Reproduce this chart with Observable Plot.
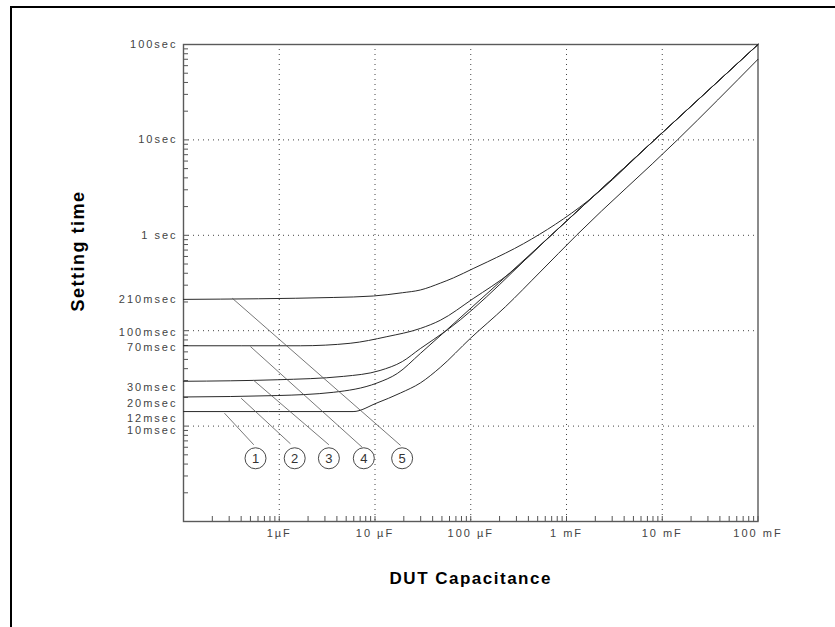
<!DOCTYPE html>
<html><head><meta charset="utf-8">
<script src="https://cdn.jsdelivr.net/npm/d3@7"></script>
<script src="https://cdn.jsdelivr.net/npm/@observablehq/plot@0.6"></script>
<style>
body{margin:0;background:#fff;}
#wrap{position:relative;width:835px;height:627px;overflow:hidden;}
#wrap svg{display:block;letter-spacing:1.5px;}
#wrap svg g[font-size="11"]{letter-spacing:2px;}
#wrap svg g[font-size="13"]{letter-spacing:0;}
#border{position:absolute;left:10px;top:6px;right:-5px;bottom:-5px;border-top:2.3px solid #000;border-left:2.3px solid #000;pointer-events:none;}
</style></head>
<body><div id="wrap"><div id="border"></div></div>
<script>
// ---- axis tick labels ----
const xTickValues = [1e-6, 1e-5, 1e-4, 1e-3, 1e-2, 1e-1];
const xTickLabels = ["1µF", "10 µF", "100 µF", "1 mF", "10 mF", "100 mF"];
const yTickValues = [100, 10, 1, 0.21, 0.1, 0.07, 0.03, 0.02, 0.012, 0.01];
const yTickLabels = ["100sec", "10sec", "1 sec", "210msec", "100msec", "70msec", "30msec", "20msec", "12msec", "10msec"];
const gridX = [1e-6, 1e-5, 1e-4, 1e-3, 1e-2];
const gridY = [1e-2, 1e-1, 1, 10];

// ---- curves: DUT capacitance (F) vs setting time (s) ----
const curve1C = [1e-7, 5.9e-6, 1.05e-5, 1.84e-5, 2.97e-5, 4.8e-5, 9.9e-5, 2.3e-4, 5.3e-4, 1.27e-3, 1.44e-2, 1e-1];
const curve1T = [0.0142, 0.0142, 0.0175, 0.0222, 0.0283, 0.0412, 0.083, 0.178, 0.412, 1.0, 10, 70];
const curve2C = [1e-7, 9.5e-7, 3.66e-6, 1.05e-5, 1.71e-5, 2.97e-5, 5.5e-5, 6.9e-4, 8.3e-3, 1e-1];
const curve2T = [0.0202, 0.0209, 0.0226, 0.0283, 0.0356, 0.0576, 0.1, 1, 10, 100];
const curve3C = [1e-7, 9.5e-7, 4.67e-6, 1.13e-5, 1.93e-5, 2.97e-5, 5.7e-5, 6.9e-4, 8.3e-3, 1e-1];
const curve3T = [0.0295, 0.0306, 0.0332, 0.0383, 0.0475, 0.0649, 0.102, 1, 10, 100];
const curve4C = [1e-7, 1.66e-6, 5.5e-6, 1.33e-5, 2.97e-5, 4.8e-5, 1.06e-4, 2.6e-4, 6.9e-4, 8.3e-3, 1e-1];
const curve4T = [0.0695, 0.0695, 0.0738, 0.0866, 0.1055, 0.1285, 0.217, 0.405, 1, 10, 100];
const curve5C = [1e-7, 3.66e-6, 9.6e-6, 1.93e-5, 2.97e-5, 4.8e-5, 6.6e-5, 1.06e-4, 1.49e-4, 3.55e-4, 1.65e-3, 8.3e-3, 1e-1];
const curve5T = [0.213, 0.223, 0.231, 0.25, 0.267, 0.315, 0.358, 0.448, 0.526, 0.816, 2.27, 10, 100];

// ---- numbered callouts ----
const calloutText = ["1", "2", "3", "4", "5"];
const calloutC = [5.65e-7, 1.45e-6, 3.3e-6, 7.64e-6, 1.92e-5];
const calloutT = [0.0046, 0.0046, 0.0046, 0.0046, 0.0046];
const leaderFromC = [2.68e-7, 4.0e-7, 5.42e-7, 5.0e-7, 3.23e-7];
const leaderFromT = [0.01365, 0.0196, 0.0301, 0.0682, 0.219];
const leaderToC = [5.42e-7, 1.31e-6, 3.3e-6, 7.35e-6, 1.85e-5];
const leaderToT = [0.00637, 0.00652, 0.00637, 0.0060, 0.00627];

const curves = [[curve1C, curve1T], [curve2C, curve2T], [curve3C, curve3T], [curve4C, curve4T], [curve5C, curve5T]];
const rows = curves.flatMap(([cs, ts], i) => cs.map((c, j) => ({series: i + 1, C: c, T: ts[j]})));
const callouts = calloutText.map((t, i) => ({text: t, C: calloutC[i], T: calloutT[i]}));
const leaders = leaderFromC.map((c, i) => ({x1: c, y1: leaderFromT[i], x2: leaderToC[i], y2: leaderToT[i]}));
const xLab = new Map(xTickValues.map((v, i) => [v, xTickLabels[i]]));
const yLab = new Map(yTickValues.map((v, i) => [v, yTickLabels[i]]));
const xMinor = d3.scaleLog().domain([1e-7, 0.1]).ticks();
const yMinor = d3.scaleLog().domain([1e-3, 100]).ticks();

const W = 835, H = 627, ML = 183, MR = 77.5, MT = 44, MB = 106;
const innerW = W - ML - MR, innerH = H - MT - MB;
const tickLen = 5;

// vertical nudges of crowded y tick labels (pixels)
const yNudge = new Map([[0.1, 2], [0.07, 2], [0.03, 7], [0.02, 6], [0.012, -0.5], [0.01, 4]]);
const nudgeGroups = d3.groups(yTickValues, v => yNudge.get(v) || 0);
const yLabelMarks = nudgeGroups.map(([dy, vals]) =>
  Plot.text(vals, {y: d => d, text: d => yLab.get(d), frameAnchor: "left", textAnchor: "end", dx: -6, dy, fontSize: 11, fill: "#444"})
);

const chart = Plot.plot({
  width: W, height: H,
  marginLeft: ML, marginRight: MR, marginTop: MT, marginBottom: MB,
  style: {fontFamily: "'Liberation Sans', Arial, Helvetica, sans-serif", background: "transparent", color: "#333"},
  x: {type: "log", domain: [1e-7, 0.1], axis: null},
  y: {type: "log", domain: [1e-3, 100], axis: null},
  marks: [
    Plot.ruleX(gridX, {x: d => d, stroke: "#444", strokeDasharray: "1,4", strokeWidth: 1}),
    Plot.ruleY(gridY, {y: d => d, stroke: "#444", strokeDasharray: "1,4", strokeWidth: 1}),
    Plot.tickY(yMinor, {y: d => d, insetRight: innerW - tickLen, stroke: "#555"}),
    Plot.tickX(xMinor, {x: d => d, insetTop: innerH - tickLen, stroke: "#555"}),
    Plot.frame({stroke: "#5a5a5a", strokeWidth: 1.4}),
    Plot.line(rows, {x: "C", y: "T", z: "series", stroke: "#2a2a2a", strokeWidth: 1, curve: "monotone-x"}),
    Plot.link(leaders, {x1: "x1", y1: "y1", x2: "x2", y2: "y2", stroke: "#555", strokeWidth: 0.8}),
    Plot.dot(callouts, {x: "C", y: "T", r: 10.5, stroke: "#333", strokeWidth: 0.9, fill: "white"}),
    Plot.text(callouts, {x: "C", y: "T", text: "text", fontSize: 13, fill: "#333", dy: 1}),
    Plot.axisX({ticks: xTickValues, tickFormat: d => xLab.get(d), tickSize: 0, tickPadding: 8, fontSize: 11, label: null, fill: "#444"}),
    ...yLabelMarks,
    Plot.text(["DUT Capacitance"], {frameAnchor: "bottom", dy: 62, fontWeight: "bold", fontSize: 17, fill: "#000"}),
    Plot.text(["Setting time"], {frameAnchor: "left", textAnchor: "middle", rotate: -90, dx: -105, dy: -32, fontWeight: "bold", fontSize: 18, fill: "#000"})
  ]
});
document.getElementById("wrap").prepend(chart);
</script>
</body></html>
